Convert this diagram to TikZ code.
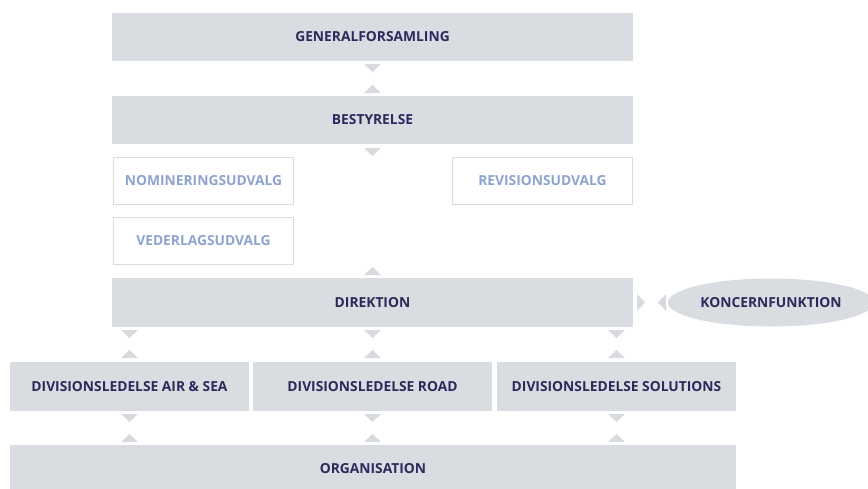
\documentclass[tikz,border=0pt]{standalone}
\usepackage{fontspec}
\setmainfont{Open Sans}
\usetikzlibrary{shapes,calc,positioning}
\definecolor{boxgray}{HTML}{D9DCE0}
\definecolor{trigray}{HTML}{D7DADE}
\definecolor{navy}{HTML}{2B2A5C}
\definecolor{paleblue}{HTML}{8CA4CF}
% two small triangles between two anchors, #3/#4 = gap at start/end
\newcommand\linktri[4]{%
  \path ($(#1)!#3!(#2)$) coordinate (sb) ($(#1)!{#3+8pt}!(#2)$) coordinate (sa)
        ($(#2)!#4!(#1)$) coordinate (eb) ($(#2)!{#4+8pt}!(#1)$) coordinate (ea);
  \fill[trigray] ($(sb)!8.5pt!90:(sa)$) -- (sa) -- ($(sb)!8.5pt!-90:(sa)$) -- cycle;
  \fill[trigray] ($(eb)!8.5pt!90:(ea)$) -- (ea) -- ($(eb)!8.5pt!-90:(ea)$) -- cycle;
}

\begin{document}
\begin{tikzpicture}[x=1pt,y=-1pt,% all sizes in pt, y downwards
      every node/.style={
        align=center,
        inner sep=0pt,
        outer sep=0pt,
        font=\fontsize{13.8}{15}\selectfont\bfseries
      },
      box/.style={rectangle,fill=boxgray,text=navy,minimum height=48pt},
      subbox/.style={rectangle,draw=boxgray,line width=1pt,fill=white,text=paleblue,minimum width=180pt,minimum height=47pt}
    ]
    \useasboundingbox (0,0) rectangle (868,488);
    \node[box,minimum width=521pt](gf) at (372.5,37){GENERALFORSAMLING};
    \node[box,minimum width=521pt](best)[below=35pt of gf]{BESTYRELSE};
    \node[subbox](nom) at (203.5,181){NOMINERINGSUDVALG};
    \node[subbox](rev) at (542.5,181){REVISIONSUDVALG};
    \node[subbox](ved)[below=13pt of nom]{VEDERLAGSUDVALG};
    \node[box,minimum width=521pt,minimum height=49pt](dir) at (372.5,302.5){DIREKTION};
    \node[ellipse,fill=boxgray,text=navy,minimum width=206pt,minimum height=48pt](kf) at (771,302.5){KONCERNFUNKTION};
    \node[box,minimum width=239pt,minimum height=49pt](as) at (129.5,386.5){DIVISIONSLEDELSE AIR \& SEA};
    \node[box,minimum width=239pt,minimum height=49pt](road)[right=4pt of as]{DIVISIONSLEDELSE ROAD};
    \node[box,minimum width=239pt,minimum height=49pt](sol)[right=5pt of road]{DIVISIONSLEDELSE SOLUTIONS};
    \node[box,minimum width=726pt](org) at (373,469){ORGANISATION};
    \linktri{gf.south}{best.north}{3pt}{3pt}
    \linktri{best.south}{dir.north}{4pt}{3pt}
    \linktri{dir.east}{kf.west}{4pt}{2pt}
    \linktri{dir.south -| as.north}{as.north}{3pt}{4pt}
    \linktri{dir.south -| road.north}{road.north}{3pt}{4pt}
    \linktri{dir.south -| sol.north}{sol.north}{3pt}{4pt}
    \linktri{as.south}{org.north -| as.south}{3pt}{3pt}
    \linktri{road.south}{org.north -| road.south}{3pt}{3pt}
    \linktri{sol.south}{org.north -| sol.south}{3pt}{3pt}
  \end{tikzpicture}
\end{document}
